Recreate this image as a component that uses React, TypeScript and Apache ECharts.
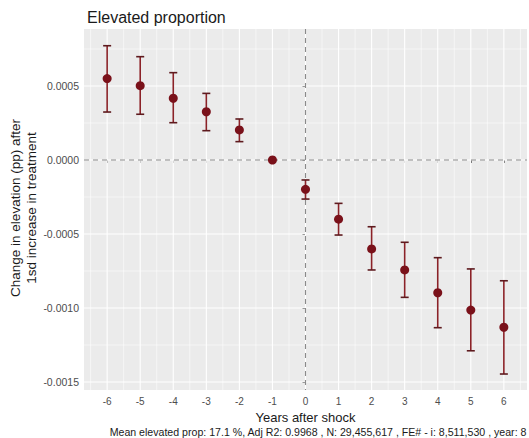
import React, { useEffect, useRef } from "react";
import * as echarts from "echarts";

const years = [-6, -5, -4, -3, -2, -1, 0, 1, 2, 3, 4, 5, 6];
const estimates = [0.00055, 0.000502, 0.000417, 0.000326, 0.000203, 0, -0.000198, -0.0004, -0.000601, -0.000743, -0.000897, -0.001014, -0.00113];
const lowerCI = [0.000324, 0.000309, 0.000252, 0.000198, 0.000124, 0, -0.000264, -0.000507, -0.000743, -0.000928, -0.001133, -0.001289, -0.001446];
const upperCI = [0.000772, 0.000698, 0.00059, 0.00045, 0.000277, 0, -0.000135, -0.000293, -0.000451, -0.000556, -0.00066, -0.000736, -0.000816];

const xTicks = [-6, -5, -4, -3, -2, -1, 0, 1, 2, 3, 4, 5, 6];
const xMinor = [-6.5, -5.5, -4.5, -3.5, -2.5, -1.5, -0.5, 0.5, 1.5, 2.5, 3.5, 4.5, 5.5, 6.5];
const yTicks = [-0.0015, -0.001, -0.0005, 0, 0.0005];
const yMinor = [-0.00125, -0.00075, -0.00025, 0.00025, 0.00075];

const titleText = "Elevated proportion";
const xTitle = "Years after shock";
const yTitle = "Change in elevation (pp) after\n1sd increase in treatment";
const caption = "Mean elevated prop: 17.1 %, Adj R2: 0.9968 , N: 29,455,617 , FE# - i: 8,511,530 , year: 8";

const FONT = "'Liberation Sans', Arial, Helvetica, sans-serif";

export default function App() {
  const ref = useRef<HTMLDivElement>(null);
  useEffect(() => {
    if (!ref.current) return;
    const chart = echarts.init(ref.current, null, { renderer: "svg" });

    const gridData: any[] = [];
    xTicks.forEach((v) => gridData.push([v, 0, "x", 1.1]));
    xMinor.forEach((v) => gridData.push([v, 0, "x", 0.55]));
    yTicks.forEach((v) => gridData.push([0, v, "y", 1.1]));
    yMinor.forEach((v) => gridData.push([0, v, "y", 0.55]));

    const errData = years.map((y, i) => [y, lowerCI[i], upperCI[i]]);
    const pointData = years.map((y, i) => [y, estimates[i]]);

    chart.setOption({
      animation: false,
      textStyle: { fontFamily: FONT },
      title: {
        text: titleText,
        left: 82,
        top: 4,
        textStyle: { fontSize: 16, fontWeight: "normal", color: "#1a1a1a", fontFamily: FONT },
      },
      grid: {
        left: 84,
        right: 2,
        top: 29,
        bottom: 48,
        show: true,
        backgroundColor: "#EBEBEB",
        borderWidth: 0,
      },
      xAxis: {
        type: "value",
        min: -6.7,
        max: 6.7,
        splitLine: { show: false },
        axisLine: { show: false },
        axisTick: { show: true, customValues: xTicks, length: 3, lineStyle: { color: "#333333", width: 1 } },
        axisLabel: { customValues: xTicks, color: "#4D4D4D", fontSize: 10, margin: 6, fontFamily: FONT },
        name: xTitle,
        nameLocation: "middle",
        nameGap: 16,
        nameTextStyle: { fontSize: 13, color: "#1a1a1a", fontFamily: FONT },
      },
      yAxis: {
        type: "value",
        min: -0.001554,
        max: 0.000885,
        splitLine: { show: false },
        axisLine: { show: false },
        axisTick: { show: true, customValues: yTicks, length: 3, lineStyle: { color: "#333333", width: 1 } },
        axisLabel: {
          customValues: yTicks,
          color: "#4D4D4D",
          fontSize: 10.5,
          margin: 5,
          fontFamily: FONT,
          formatter: (v: number) => v.toFixed(4),
        },
      },
      graphic: [
        {
          type: "text",
          x: 23,
          y: 208,
          rotation: Math.PI / 2,
          style: {
            text: yTitle,
            fontSize: 13.5,
            lineHeight: 16,
            fill: "#1a1a1a",
            fontFamily: FONT,
            textAlign: "center",
            textVerticalAlign: "middle",
          },
        },
        {
          type: "text",
          right: 2,
          top: 426,
          style: {
            text: caption,
            fontSize: 10.6,
            fill: "#1a1a1a",
            fontFamily: FONT,
          },
        },
      ],
      series: [
        {
          type: "custom",
          silent: true,
          z: 1,
          data: gridData,
          renderItem: (params: any, api: any) => {
            const cs = params.coordSys;
            const kind = api.value(2);
            const w = api.value(3);
            if (kind === "x") {
              const p = api.coord([api.value(0), 0]);
              return {
                type: "line",
                shape: { x1: p[0], y1: cs.y, x2: p[0], y2: cs.y + cs.height },
                style: { stroke: "#FFFFFF", lineWidth: w },
              };
            }
            const p = api.coord([0, api.value(1)]);
            return {
              type: "line",
              shape: { x1: cs.x, y1: p[1], x2: cs.x + cs.width, y2: p[1] },
              style: { stroke: "#FFFFFF", lineWidth: w },
            };
          },
          encode: { x: 0, y: 1 },
        },
        {
          type: "custom",
          silent: true,
          z: 2,
          data: [[0, 0]],
          renderItem: (params: any, api: any) => {
            const cs = params.coordSys;
            const p = api.coord([0, 0]);
            return {
              type: "group",
              children: [
                {
                  type: "line",
                  shape: { x1: cs.x, y1: p[1], x2: cs.x + cs.width, y2: p[1] },
                  style: { stroke: "#8a8a8a", lineWidth: 1.1, lineDash: [5, 4] },
                },
                {
                  type: "line",
                  shape: { x1: p[0], y1: cs.y, x2: p[0], y2: cs.y + cs.height },
                  style: { stroke: "#8a8a8a", lineWidth: 1.1, lineDash: [5, 4] },
                },
              ],
            };
          },
          encode: { x: 0, y: 1 },
        },
        {
          type: "custom",
          silent: true,
          z: 3,
          data: errData,
          renderItem: (params: any, api: any) => {
            const lo = api.value(1);
            const hi = api.value(2);
            if (lo === hi) return { type: "group", children: [] };
            const a = api.coord([api.value(0), lo]);
            const b = api.coord([api.value(0), hi]);
            const hw = 4;
            const st = { stroke: "#8B2228", lineWidth: 1.6 };
            return {
              type: "group",
              children: [
                { type: "line", shape: { x1: a[0], y1: a[1], x2: b[0], y2: b[1] }, style: st },
                { type: "line", shape: { x1: a[0] - hw, y1: a[1], x2: a[0] + hw, y2: a[1] }, style: { stroke: "#5e1a1e", lineWidth: 1.6 } },
                { type: "line", shape: { x1: b[0] - hw, y1: b[1], x2: b[0] + hw, y2: b[1] }, style: { stroke: "#5e1a1e", lineWidth: 1.6 } },
              ],
            };
          },
          encode: { x: 0, y: [1, 2] },
        },
        {
          type: "scatter",
          z: 4,
          data: pointData,
          symbol: "circle",
          symbolSize: 9,
          itemStyle: { color: "#7A111A", opacity: 1 },
          silent: true,
        },
      ],
    });
    return () => chart.dispose();
  }, []);

  return <div ref={ref} style={{ width: 529, height: 438, position: "absolute", left: 0, top: 0 }} />;
}
